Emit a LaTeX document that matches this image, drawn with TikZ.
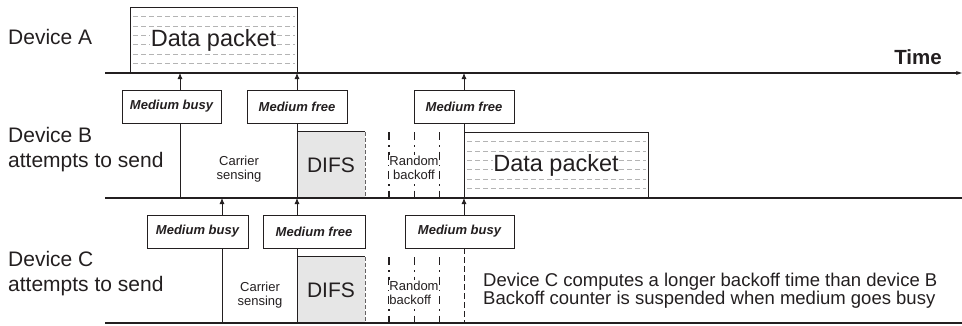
\documentclass[tikz,border=0pt]{standalone}
\usepackage{fontspec}
\setmainfont{Liberation Sans}
\usetikzlibrary{arrows.meta}
\definecolor{ink}{HTML}{231F20}
\definecolor{difsgray}{HTML}{E6E6E6}
\definecolor{dashgray}{HTML}{B4B4B4}

\begin{document}
\begin{tikzpicture}[
  x=1pt,
  y=-1pt,
  timeline/.style={line width=1.6pt, draw=ink},
  event/.style={line width=0.8pt, draw=ink},
  sense/.style={-{Latex[length=6pt,width=5pt]}, line width=0.8pt, draw=ink},
  medium/.style={draw=ink, line width=0.8pt, fill=white, minimum height=33pt,
    inner sep=0pt, text=ink, font=\fontsize{13}{15}\selectfont\bfseries\itshape},
  device/.style={anchor=west, align=left, inner sep=0pt, text=ink,
    font=\fontsize{21}{25}\selectfont},
  small/.style={align=center, inner sep=0.5pt, text=ink,
    font=\fontsize{13}{14.5}\selectfont},
  packet/.style={draw=ink, line width=0.9pt, fill=white, minimum height=66pt,
    inner sep=0pt},
  pkttext/.style={fill=white, inner sep=0.5pt, text=ink,
    font=\fontsize{23.5}{28}\selectfont},
  difs/.style={fill=difsgray, minimum width=68pt, minimum height=66pt,
    inner sep=0pt, text=ink, font=\fontsize{21}{25}\selectfont},
  filler/.style={draw=dashgray, line width=0.6pt, dash pattern=on 5pt off 3pt},
  cutedge/.style={draw=ink!70, line width=0.8pt, dash pattern=on 4pt off 2pt},
  backoff/.style={draw=ink, dash pattern=on 8pt off 5pt on 1.5pt off 5pt}
]
  \useasboundingbox (0,0) rectangle (962,325);

  % timelines and event points
  \coordinate (tA) at (105,73);
  \coordinate (tB) at (105,198);
  \coordinate (tC) at (105,323);
  \coordinate (aBusy) at (180,73);
  \coordinate (aFree) at (297,73);
  \coordinate (aSend) at (464,73);
  \coordinate (bBusy) at (222,198);
  \coordinate (bFree) at (297,198);
  \coordinate (bSend) at (464,198);

  % device A
  \node[packet, minimum width=167pt] (pktA) at (213.5,40) {};
  \foreach \k in {1,...,6}
    \draw[filler] (133,{7+9.43*\k}) -- (295,{7+9.43*\k});
  \node[pkttext] (pktAtext) at (pktA) {Data packet};
  \draw[timeline, -{Stealth[length=14pt,width=9pt,inset=10pt]}] (tA) -- (962,73);
  \node[anchor=base east, inner sep=0pt, text=ink,
    font=\fontsize{20.5}{24}\selectfont\bfseries] (time) at (942,64) {Time};
  \node[device, anchor=base west] (devA) at (8,44) {Device A};

  % device B
  \node[medium, minimum width=99pt] (busyB) at (171.5,106.5) {Medium busy};
  \node[medium, minimum width=100pt] (freeB) at (297,106.5) {Medium free};
  \node[medium, minimum width=100pt] (sendB) at (464,106.5) {Medium free};
  \draw[sense] (busyB.north -| aBusy) -- (aBusy);
  \draw[sense] (freeB.north -| aFree) -- (aFree);
  \draw[sense] (sendB.north -| aSend) -- (aSend);

  \node[difs] (difsB) at (331,165) {DIFS};
  \draw[event] (difsB.north west) -- (difsB.north east);
  \draw[cutedge] (difsB.north east) -- (difsB.south east);
  \draw[event] (busyB.south -| aBusy) -- (aBusy |- tB);
  \draw[event] (freeB.south -| aFree) -- (aFree |- tB);

  \node[packet, minimum width=184pt] (pktB) at (556,165) {};
  \foreach \k in {1,...,6}
    \draw[filler] (467,{132+9.43*\k}) -- (646,{132+9.43*\k});
  \node[pkttext] (pktBtext) at (pktB) {Data packet};
  \draw[event] (sendB.south -| aSend) -- (aSend |- tB);

  \foreach \x/\w in {389/1.6pt,414/0.8pt,439/0.8pt}
    \draw[backoff, line width=\w] (\x,132) -- (\x,198);
  \node[small] (csB) at (239,169) {Carrier\\sensing};
  \node[small, fill=white] (rbB) at (414,168) {Random\\backoff};
  \draw[timeline] (tB) -- (962,198);
  \node[device] (devB) at (8,150) {Device B\\attempts to send};

  % device C
  \node[medium, minimum width=101pt] (busyC) at (197.5,231.5) {Medium busy};
  \node[medium, minimum width=102pt] (freeC) at (314,231.5) {Medium free};
  \node[medium, minimum width=109pt] (sendC) at (459.5,231.5) {Medium busy};
  \draw[sense] (busyC.north -| bBusy) -- (bBusy);
  \draw[sense] (freeC.north -| bFree) -- (bFree);
  \draw[sense] (sendC.north -| bSend) -- (bSend);

  \node[difs] (difsC) at (331,290) {DIFS};
  \draw[event] (difsC.north west) -- (difsC.north east);
  \draw[cutedge] (difsC.north east) -- (difsC.south east);
  \draw[event] (busyC.south -| bBusy) -- (bBusy |- tC);
  \draw[event] (freeC.south -| bFree) -- (bFree |- tC);
  \draw[event, dash pattern=on 6pt off 3pt] (sendC.south -| bSend) -- (bSend |- tC);

  \foreach \x/\w in {389/1.6pt,414/0.8pt,439/0.8pt}
    \draw[backoff, line width=\w] (\x,257) -- (\x,323);
  \node[small] (csC) at (260,295) {Carrier\\sensing};
  \node[small, fill=white, align=left] (rbC) at (414,293) {Random\\backoff};
  \node[anchor=west, align=left, inner sep=0pt, text=ink,
    font=\fontsize{18.5}{18}\selectfont] (note) at (483,291)
    {Device C computes a longer backoff time than device B\\
     Backoff counter is suspended when medium goes busy};
  \draw[timeline] (tC) -- (962,323);
  \node[device] (devC) at (8,274) {Device C\\attempts to send};
\end{tikzpicture}
\end{document}
